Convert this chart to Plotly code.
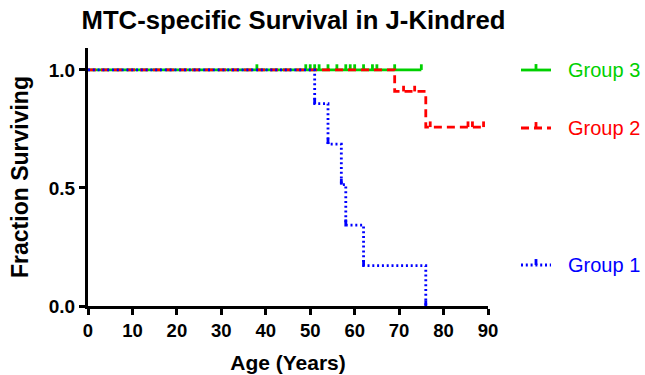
import plotly.graph_objects as go

# ---- data ----
g1_time = [0, 51, 54, 57, 58, 62, 76]
g1_surv = [1.0, 0.857, 0.686, 0.514, 0.343, 0.171, 0.0]
g1_tick_time = [51, 54, 57, 58, 62, 76]

g2_time = [0, 69, 76, 89]
g2_surv = [1.0, 0.909, 0.758, 0.758]
g2_tick_time = [71, 73.5, 77, 85.5, 86.5, 89]

g3_time = [0, 75]
g3_surv = [1.0, 1.0]
g3_tick_time = [38, 49, 50, 51, 52, 54, 56, 58, 59, 60, 62, 64, 65, 69, 75]

x_ticks = [0, 10, 20, 30, 40, 50, 60, 70, 80, 90]
y_ticks = [0.0, 0.5, 1.0]
y_tick_labels = ["0.0", "0.5", "1.0"]

GREEN = "#00D000"
RED = "#FF0000"
BLUE = "#0000FF"
FONT = "Liberation Sans, Arial, sans-serif"
TICK_H = 0.024


def surv_at(times, surv, t):
    s = surv[0]
    for ti, si in zip(times, surv):
        if ti <= t:
            s = si
    return s


def tick_segments(times, surv, ticks):
    xs, ys = [], []
    for t in ticks:
        s = surv_at(times, surv, t)
        xs += [t, t, None]
        ys += [s, s + TICK_H, None]
    return xs, ys


fig = go.Figure()

# name, times, survival, censor ticks, colour, dash, legend y (paper)
groups = [
    ("Group 3", g3_time, g3_surv, g3_tick_time, GREEN, "solid", 0.9147),
    ("Group 2", g2_time, g2_surv, g2_tick_time, RED, "8px,5px", 0.690),
    ("Group 1", g1_time, g1_surv, g1_tick_time, BLUE, "2px,2.8px", 0.159),
]

LW = 2.8
for name, t, s, ticks, col, dash, ly in groups:
    fig.add_trace(go.Scatter(
        x=t, y=s, mode="lines", line=dict(color=col, width=LW, dash=dash, shape="hv"),
        name=name, showlegend=False, cliponaxis=False,
    ))
    tx, ty = tick_segments(t, s, ticks)
    fig.add_trace(go.Scatter(
        x=tx, y=ty, mode="lines", line=dict(color=col, width=LW),
        showlegend=False, cliponaxis=False, hoverinfo="skip",
    ))
    # manual legend entry: sample line, censor tick, label
    fig.add_shape(type="line", xref="paper", yref="paper", x0=1.0825, x1=1.1575, y0=ly, y1=ly,
                  line=dict(color=col, width=LW, dash=dash))
    fig.add_shape(type="line", xref="paper", yref="paper", x0=1.12, x1=1.12, y0=ly, y1=ly + 0.023,
                  line=dict(color=col, width=LW))
    fig.add_annotation(text=name, xref="paper", yref="paper", x=1.195, y=ly,
                       xanchor="left", yanchor="middle", showarrow=False,
                       font=dict(family=FONT, size=20, color=col))

fig.update_layout(
    width=645, height=375,
    margin=dict(l=88, r=157, t=48, b=69, autoexpand=False),
    paper_bgcolor="white", plot_bgcolor="white",
    showlegend=False,
    title=dict(
        text="<b>MTC-specific Survival in J-Kindred</b>",
        font=dict(family=FONT, size=25.7, color="black"),
        x=0.455, xanchor="center", y=0.947, yanchor="middle",
    ),
    xaxis=dict(
        range=[0, 90], tickvals=x_ticks, ticks="outside", ticklen=6, tickwidth=3,
        tickcolor="black", showline=True, linecolor="black", linewidth=3,
        showgrid=False, zeroline=False, automargin=False,
        tickfont=dict(family=FONT, size=18.5, color="black", weight="bold"),
        title=dict(text="<b>Age (Years)</b>", font=dict(family=FONT, size=21, color="black"), standoff=16),
    ),
    yaxis=dict(
        range=[0, 1.093], tickvals=y_ticks, ticktext=y_tick_labels, ticks="outside", ticklen=6,
        tickwidth=3, tickcolor="black", showline=True, linecolor="black", linewidth=3,
        showgrid=False, zeroline=False, automargin=False,
        tickfont=dict(family=FONT, size=19, color="black", weight="bold"),
        title=dict(text="<b>Fraction Surviving</b>", font=dict(family=FONT, size=23, color="black"), standoff=14),
    ),
)

fig.write_html("out.html", post_script="document.body.style.margin='0';",
               config={"displayModeBar": False})
